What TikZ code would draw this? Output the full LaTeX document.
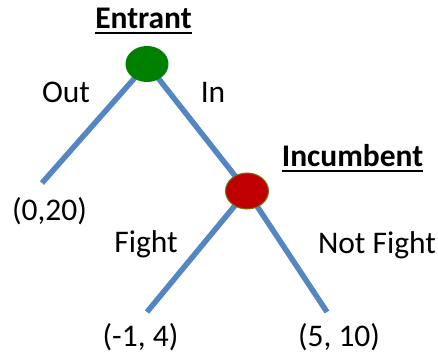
\documentclass[tikz,border=0pt]{standalone}
\usepackage{fontspec}
\setmainfont{Carlito}
\usetikzlibrary{shapes.geometric,backgrounds}
\definecolor{branch}{RGB}{84,134,196}
\definecolor{entgreen}{RGB}{0,128,0}
\definecolor{incred}{RGB}{192,0,0}
\definecolor{incrim}{RGB}{110,120,20}
\tikzset{
  branchline/.style={draw=branch, line width=5.5pt},
  lbl/.style={inner sep=0pt, anchor=base, font=\fontsize{31.5}{38}\selectfont},
  player/.style={lbl, font=\fontsize{31.5}{38}\selectfont\bfseries},
  ulline/.style={line width=2pt, black},
  decision/.style={ellipse, minimum width=43pt, minimum height=36pt, inner sep=0pt}
}
\begin{document}
\begin{tikzpicture}[x=1pt,y=-1pt]
\useasboundingbox (0,0) rectangle (438,355);
\node[decision, fill=entgreen] (ent) at (147,64) {};
\node[decision, fill=incred, draw=incrim, line width=1pt] (inc) at (247,191) {};
\coordinate (leafO) at (42,183);
\coordinate (leafF) at (147,312);
\coordinate (leafN) at (327,312);
\begin{scope}[on background layer]
  \draw[branchline] (ent.center) -- (leafO);
  \draw[branchline] (ent.center) -- (inc.center);
  \draw[branchline] (inc.center) -- (leafF);
  \draw[branchline] (inc.center) -- (leafN);
\end{scope}
\node[player] (tEnt) at (143.5,29) {Entrant};
\draw[ulline] ([yshift=-4pt]tEnt.base west) -- ([yshift=-4pt]tEnt.base east);
\node[player] (tInc) at (352.5,167) {Incumbent};
\draw[ulline] ([yshift=-4pt]tInc.base west) -- ([yshift=-4pt]tInc.base east);
\node[lbl] (tOut) at (66,103) {Out};
\node[lbl] (tIn) at (213,103) {In};
\node[lbl] (tFight) at (146,252) {Fight};
\node[lbl] (tNot) at (377,253) {Not Fight};
\node[lbl] (p1) at (49.5,220) {(0,20)};
\node[lbl] (p2) at (140.5,346) {(-1, 4)};
\node[lbl] (p3) at (339,346) {(5, 10)};
\end{tikzpicture}
\end{document}
